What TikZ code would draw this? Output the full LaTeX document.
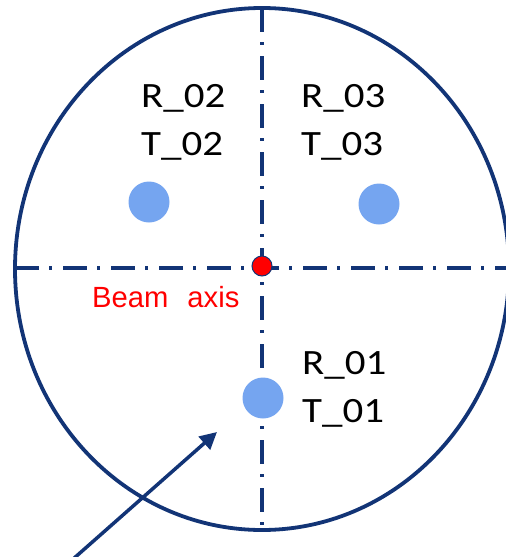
\documentclass[tikz,border=0pt]{standalone}
\usepackage{fontspec}
\usepackage{tikz}
\usetikzlibrary{arrows.meta}
\newfontfamily\labelfont[FakeStretch=1.15]{Carlito}
\newfontfamily\axisfont{Liberation Sans}
\definecolor{rimblue}{RGB}{18,52,118}
\definecolor{spotblue}{RGB}{117,165,240}

\begin{document}
\begin{tikzpicture}[x=1pt, y=-1pt,
	every node/.style={inner sep=0pt},
	spot/.style={circle, fill=spotblue, minimum size=41pt},
	tag/.style={anchor=base west, font=\labelfont\fontsize{35.6}{40}\selectfont},
	axisline/.style={rimblue, line width=3.3pt, dash pattern=on 24pt off 10pt on 3pt off 11pt}]
	\useasboundingbox (0,0) rectangle (506,557);
	% target outline and axes
	\draw[rimblue, line width=3.8pt] (262,269) ellipse [x radius=247, y radius=261];
	\draw[axisline] (15,268) -- (509,268);
	\draw[axisline] (262,8) -- (262,530);
	% positions
	\node[spot] (s02) at (149,202) {};
	\node[spot] (s03) at (379,204) {};
	\node[spot] (s01) at (263,398) {};
	\node[circle, fill=red, draw=rimblue, line width=1pt, minimum size=20pt] (beam) at (262,266) {};
	\node[red, anchor=base west, font=\axisfont\fontsize{29.2}{32}\selectfont] (beamtext) at (92,307) {Beam\hspace{19pt}axis};
	\node[tag] (r02) at (141,107) {R\_02};
	\node[tag] (t02) at (141,155) {T\_02};
	\node[tag] (r03) at (301,107) {R\_03};
	\node[tag] (t03) at (301,155) {T\_03};
	\node[tag] (r01) at (302,374) {R\_01};
	\node[tag] (t01) at (302,422) {T\_01};
	% incoming arrow
	\coordinate (tail) at (72,560);
	\coordinate (tip) at (217,432);
	\draw[rimblue, line width=3.5pt, -{Triangle[length=17pt, width=17pt]}] (tail) -- (tip);
\end{tikzpicture}
\end{document}
